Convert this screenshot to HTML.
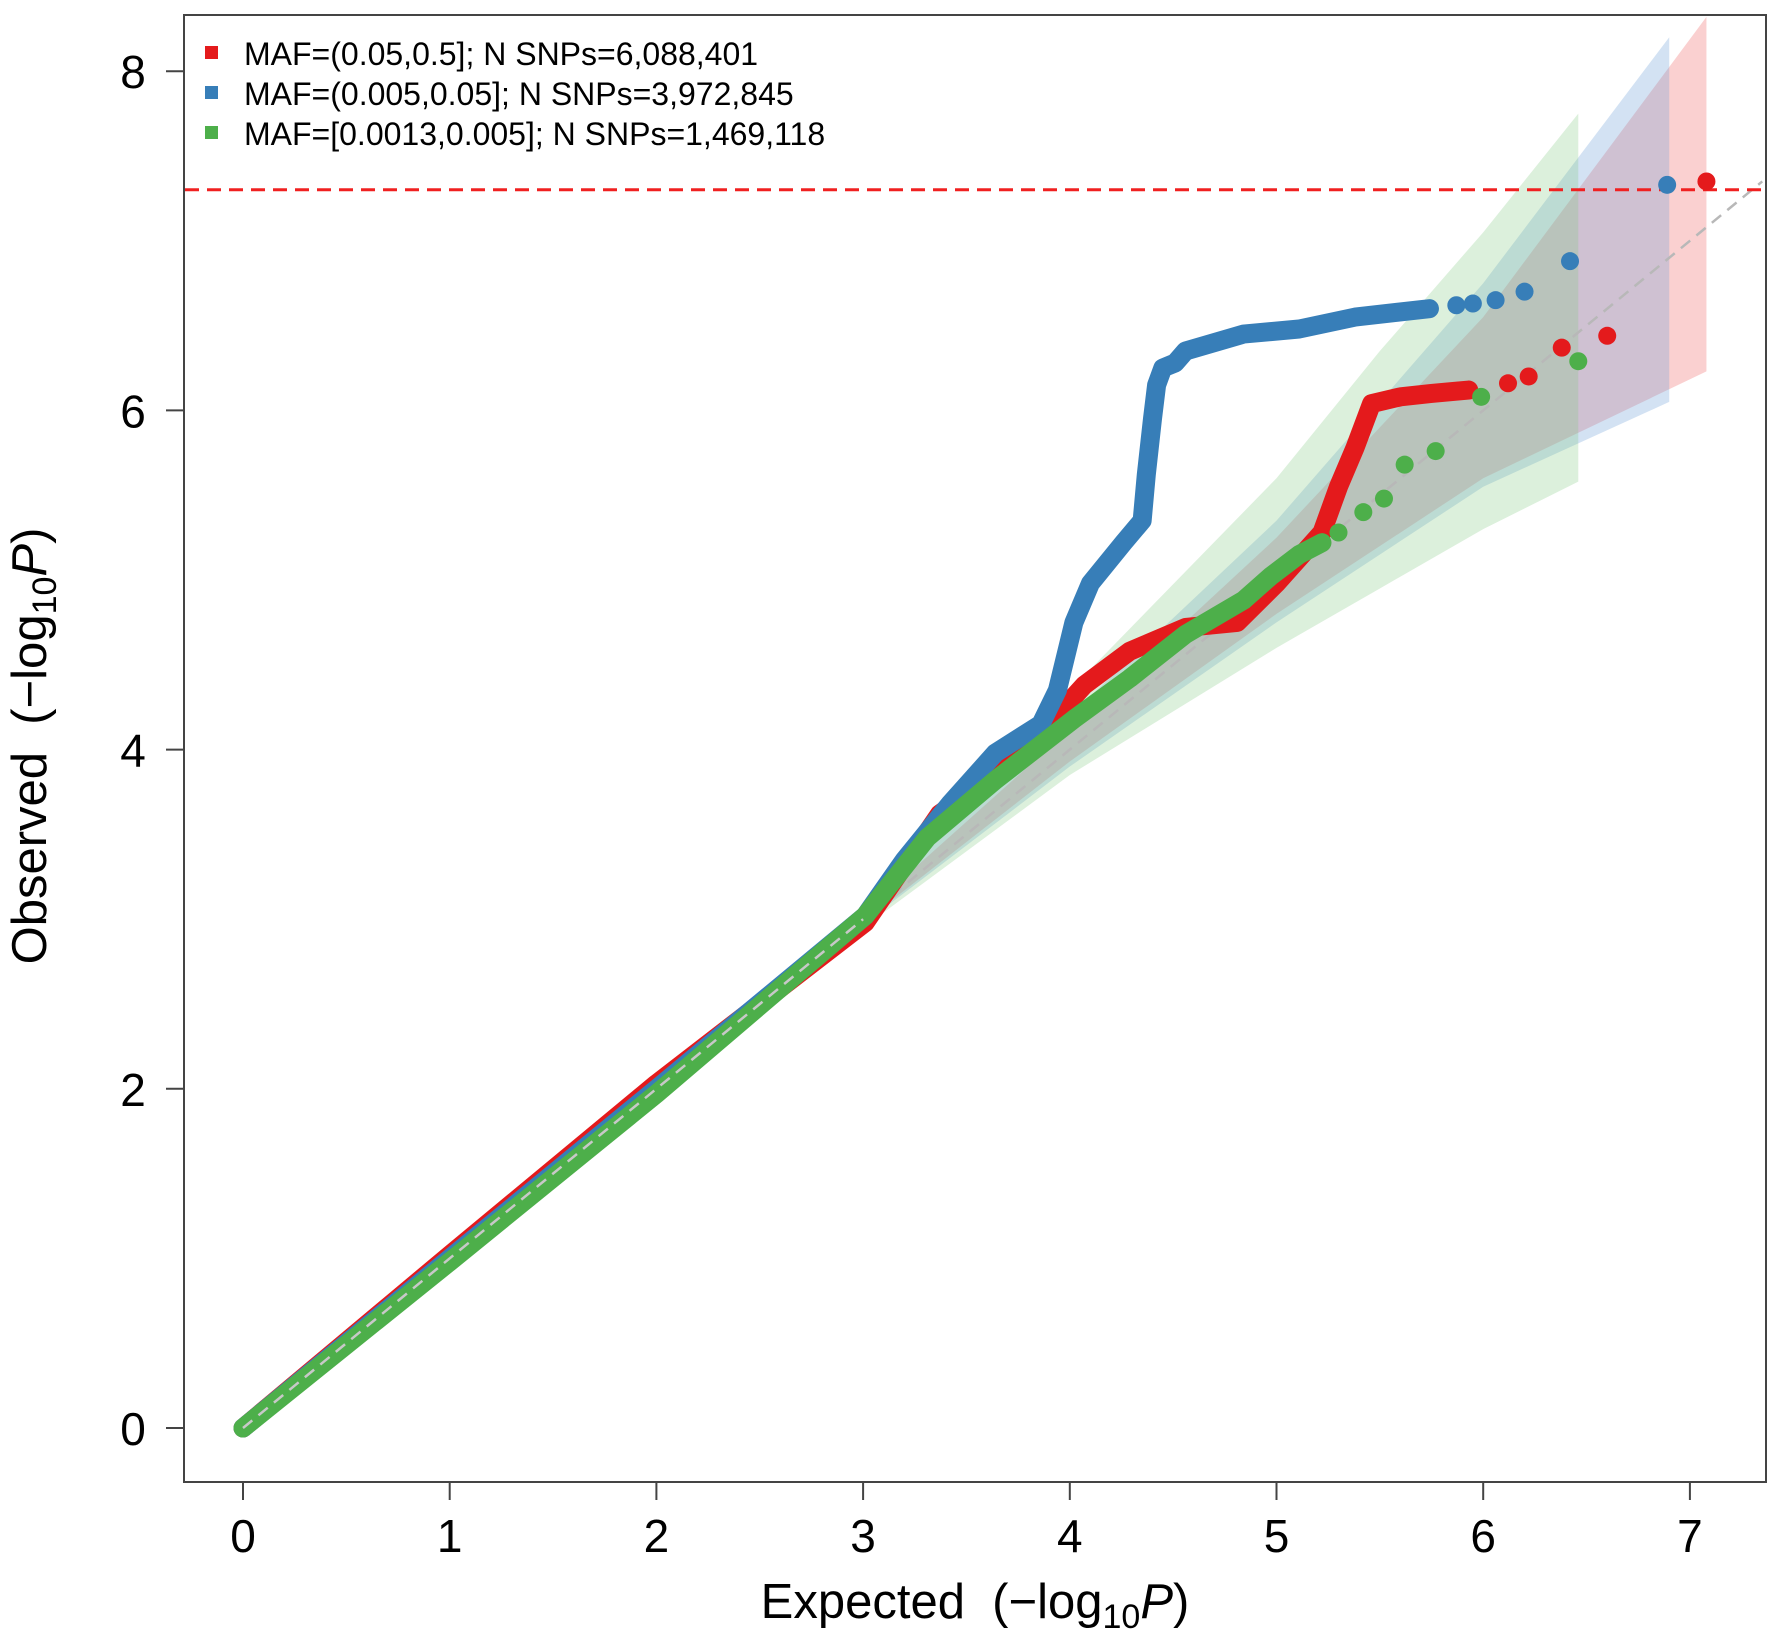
<!DOCTYPE html>
<html><head><meta charset="utf-8"><style>
html,body{margin:0;padding:0;background:#fff}
svg{display:block;font-family:"Liberation Sans",Arial,sans-serif}
</style></head><body>
<svg id="chart" width="1772" height="1642" viewBox="0 0 1772 1642" xmlns="http://www.w3.org/2000/svg">
<g id="bands"></g>
<line id="nullLine" stroke="#b8b8b8" stroke-width="2.5" stroke-dasharray="12 8"/>
<line id="sigLine" stroke="#f02020" stroke-width="3" stroke-dasharray="14 8"/>
<g id="series"></g>
<rect x="184" y="15" width="1582" height="1467" fill="none" stroke="#444" stroke-width="2"/>
<g id="axes"></g>
<g font-size="32">
 <g><rect x="205" y="46" width="13" height="13" fill="#e41a1c"/><text x="244" y="65">MAF=(0.05,0.5]; N SNPs=6,088,401</text></g>
 <g><rect x="205" y="86" width="13" height="13" fill="#377eb8"/><text x="244" y="105">MAF=(0.005,0.05]; N SNPs=3,972,845</text></g>
 <g><rect x="205" y="126" width="13" height="13" fill="#4daf4a"/><text x="244" y="145">MAF=[0.0013,0.005]; N SNPs=1,469,118</text></g>
</g>
<text x="975" y="1618" font-size="49" text-anchor="middle" xml:space="preserve">Expected  (−log<tspan font-size="34" dy="10">10</tspan><tspan dy="-10" font-style="italic">P</tspan>)</text>
<text transform="translate(46,746) rotate(-90)" font-size="49" text-anchor="middle" xml:space="preserve">Observed  (−log<tspan font-size="34" dy="10">10</tspan><tspan dy="-10" font-style="italic">P</tspan>)</text>
</svg>
<script>
const xTicks = [0,1,2,3,4,5,6,7];
const yTicks = [0,2,4,6,8];
const sigThreshold = 7.301;
const nullMax = 7.35;

const bandGreenX = [3,4,5,5.5,6,6.46];
const bandGreenUp = [3.1,4.35,5.6,6.35,7.05,7.75];
const bandGreenLo = [2.95,3.85,4.6,4.95,5.3,5.58];
const bandBlueX = [3,4,5,6,6.9];
const bandBlueUp = [3.05,4.2,5.35,6.75,8.2];
const bandBlueLo = [2.97,3.9,4.75,5.55,6.05];
const bandRedX = [3,4,5,6,7.08];
const bandRedUp = [3.03,4.12,5.25,6.55,8.32];
const bandRedLo = [2.98,3.93,4.8,5.6,6.23];

const redX = [0,1,2,3.01,3.37,3.75,4.07,4.29,4.56,4.81,5.0,5.22,5.3,5.38,5.46,5.6,5.75,5.93];
const redY = [0,1.02,2.03,2.98,3.62,3.95,4.38,4.58,4.72,4.75,4.98,5.28,5.55,5.78,6.04,6.08,6.1,6.12];
const redTailX = [6.12,6.22,6.38,6.6,7.08];
const redTailY = [6.16,6.2,6.37,6.44,7.35];

const blueX = [0,1,2,3.01,3.2,3.42,3.64,3.86,3.94,4.02,4.1,4.26,4.35,4.37,4.4,4.42,4.45,4.51,4.56,4.84,5.11,5.38,5.74];
const blueY = [0,1.0,2.0,3.02,3.35,3.68,3.98,4.15,4.35,4.75,4.98,5.22,5.35,5.62,5.95,6.15,6.25,6.28,6.35,6.45,6.48,6.55,6.6];
const blueTailX = [5.87,5.95,6.06,6.2,6.42,6.89];
const blueTailY = [6.62,6.63,6.65,6.7,6.88,7.33];

const greenX = [0,1,2,3.01,3.31,3.64,4.02,4.29,4.56,4.84,4.97,5.11,5.22];
const greenY = [0,0.98,1.97,3.02,3.48,3.82,4.18,4.42,4.68,4.88,5.02,5.15,5.22];
const greenTailX = [5.3,5.42,5.52,5.62,5.77,5.99,6.46];
const greenTailY = [5.28,5.4,5.48,5.68,5.76,6.08,6.29];

const X0=243, XU=206.7, Y0=1428, YU=169.6;
const sx = v => X0 + v*XU;
const sy = v => Y0 - v*YU;
const NS='http://www.w3.org/2000/svg';
const mk = (t, parent) => { const e=document.createElementNS(NS,t); parent.appendChild(e); return e; };

const bands=document.getElementById('bands');
function band(xs, up, lo, fill, name){
  const pts=[];
  xs.forEach((x,i)=>pts.push(sx(x)+','+sy(Math.min(up[i],8.45))));
  for(let i=xs.length-1;i>=0;i--) pts.push(sx(xs[i])+','+sy(lo[i]));
  const p=mk('polygon',bands);
  p.setAttribute('points',pts.join(' '));
  p.setAttribute('fill',fill);
  
  
}
band(bandRedX,bandRedUp,bandRedLo,'rgba(240,110,110,0.32)','band-common');
band(bandBlueX,bandBlueUp,bandBlueLo,'rgba(110,160,215,0.3)','band-low-frequency');
band(bandGreenX,bandGreenUp,bandGreenLo,'rgba(130,200,130,0.28)','band-rare');

const nl=document.getElementById('nullLine');
nl.setAttribute('x1',sx(0));nl.setAttribute('y1',sy(0));nl.setAttribute('x2',sx(nullMax));nl.setAttribute('y2',sy(nullMax));
const sl=document.getElementById('sigLine');
sl.setAttribute('x1',185);sl.setAttribute('x2',1765);sl.setAttribute('y1',sy(sigThreshold));sl.setAttribute('y2',sy(sigThreshold));

const series=document.getElementById('series');
function drawSeries(xs,ys,tx,ty,color,name){
  const g=mk('g',series);
  
  
  const pl=mk('polyline',g);
  pl.setAttribute('points',xs.map((x,i)=>sx(x)+','+sy(ys[i])).join(' '));
  pl.setAttribute('fill','none');pl.setAttribute('stroke',color);
  pl.setAttribute('stroke-width','19');pl.setAttribute('stroke-linecap','round');pl.setAttribute('stroke-linejoin','round');
  
  
  tx.forEach((x,i)=>{
    const c=mk('circle',g);
    c.setAttribute('cx',sx(x));c.setAttribute('cy',sy(ty[i]));c.setAttribute('r',9);c.setAttribute('fill',color);
    
    
  });
}
drawSeries(redX,redY,redTailX,redTailY,'#e41a1c','series-common');
drawSeries(blueX,blueY,blueTailX,blueTailY,'#377eb8','series-low-frequency');
drawSeries(greenX,greenY,greenTailX,greenTailY,'#4daf4a','series-rare');
const nl2=mk('line',series);
nl2.setAttribute('x1',sx(0));nl2.setAttribute('y1',sy(0));nl2.setAttribute('x2',sx(3));nl2.setAttribute('y2',sy(3));
nl2.setAttribute('stroke','#c8c8c8');nl2.setAttribute('stroke-width','2.5');nl2.setAttribute('stroke-dasharray','12 8');



const axes=document.getElementById('axes');
xTicks.forEach(v=>{
  const l=mk('line',axes);
  l.setAttribute('x1',sx(v));l.setAttribute('x2',sx(v));l.setAttribute('y1',1482);l.setAttribute('y2',1500);
  l.setAttribute('stroke','#444');l.setAttribute('stroke-width','2');
  
  
  const t=mk('text',axes);
  t.setAttribute('x',sx(v));t.setAttribute('y',1552);t.setAttribute('font-size','46');t.setAttribute('text-anchor','middle');
  t.textContent=v;
  
  
});
yTicks.forEach(v=>{
  const l=mk('line',axes);
  l.setAttribute('x1',166);l.setAttribute('x2',184);l.setAttribute('y1',sy(v));l.setAttribute('y2',sy(v));
  l.setAttribute('stroke','#444');l.setAttribute('stroke-width','2');
  
  
  const t=mk('text',axes);
  t.setAttribute('x',133);t.setAttribute('y',sy(v)+17);t.setAttribute('font-size','46');t.setAttribute('text-anchor','middle');
  t.textContent=v;
  
  
});
</script>
</body></html>
